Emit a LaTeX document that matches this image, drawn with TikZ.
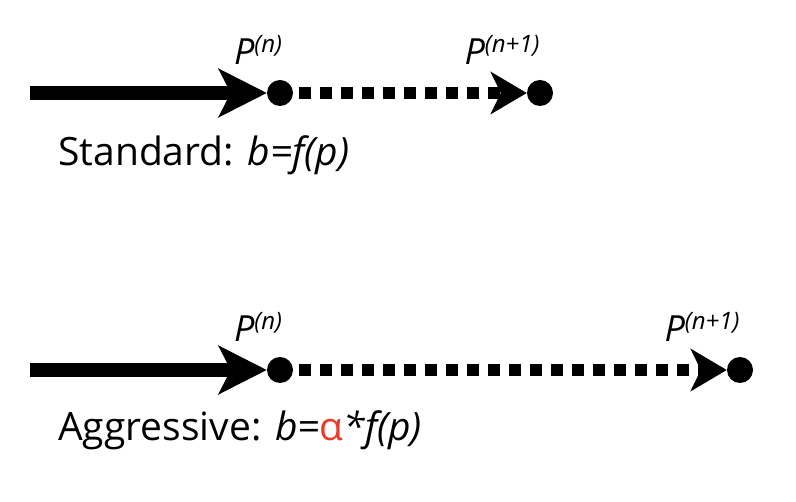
\documentclass[tikz,border=0pt]{standalone}
\usepackage{fontspec}
\setmainfont{Open Sans}
\usetikzlibrary{arrows.meta,positioning}
\definecolor{alphared}{RGB}{230,60,40}
\tikzset{
  solidarrow/.style={line width=14pt,-{Stealth[length=48pt,width=48pt,inset=12pt]}},
  dotarrow/.style={line width=12pt,dash pattern=on 12pt off 9pt,-{Stealth[length=36pt,width=42pt,inset=10pt]}},
  point/.style={circle,fill=black,inner sep=0pt,minimum size=26pt},
  plabel/.style={font=\fontsize{36}{36}\selectfont\itshape,inner sep=0pt},
  caption/.style={font=\fontsize{39}{39}\selectfont,anchor=west,inner sep=0pt}
}
\newcommand{\supfix}[1]{\raisebox{12pt}{\fontsize{24}{24}\selectfont\itshape #1}}
\begin{document}
\begin{tikzpicture}[x=1pt,y=-1pt]
\useasboundingbox (0,0) rectangle (796,502);

% standard step
\coordinate (s0) at (30,93);
\node[point] (sn) at (280,93) {};
\node[point] (sm) at (540,93) {};
\draw[solidarrow] (s0) -- (sn.west);
\draw[dotarrow] (sn.east) ++(6,0) -- (sm.west);
\node[plabel] at (258,50) {P\supfix{(n)}};
\node[plabel] at (502,50) {P\supfix{(n+1)}};
\node[caption] at (58,155) {Standard: \textit{b=f(p)}};

% aggressive step
\coordinate (a0) at (30,370);
\node[point] (an) at (280,370) {};
\node[point] (am) at (740,370) {};
\draw[solidarrow] (a0) -- (an.west);
\draw[dotarrow] (an.east) ++(6,0) -- (am.west);
\node[plabel] at (258,327) {P\supfix{(n)}};
\node[plabel] at (702,327) {P\supfix{(n+1)}};
\node[caption] at (58,430) {Aggressive: \textit{b=}{\color{alphared}α}\textit{*f(p)}};

\end{tikzpicture}
\end{document}
